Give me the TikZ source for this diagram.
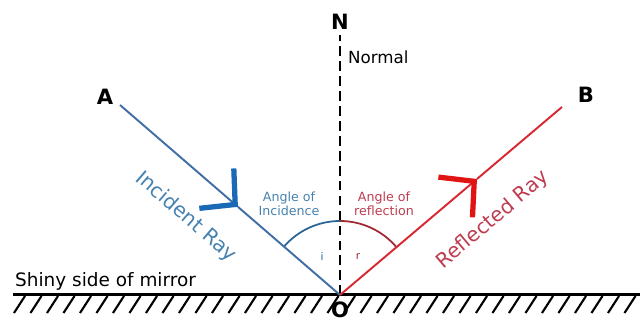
\documentclass[tikz,border=0pt]{standalone}
\usepackage{fontspec}
\setmainfont{DejaVu Sans}
\usepackage{tikz}
\usetikzlibrary{arrows.meta,calc}

\definecolor{raybl}{RGB}{65,110,165}
\definecolor{arrbl}{RGB}{25,105,180}
\definecolor{txtbl}{RGB}{70,130,175}
\definecolor{arcbl}{RGB}{40,100,150}
\definecolor{rayrd}{RGB}{215,40,50}
\definecolor{arrrd}{RGB}{225,20,20}
\definecolor{txtrd}{RGB}{190,60,80}
\definecolor{arcrd}{RGB}{160,40,50}

\begin{document}
\begin{tikzpicture}[x=0.02cm, y=0.02cm,
  lbl/.style={font=\fontsize{12}{14}\selectfont\bfseries},
  mirror/.style={line width=1.7pt},
  hatch/.style={line width=1.2pt},
  normalline/.style={line width=1.6pt, dash pattern=on 5.5pt off 3pt},
  incray/.style={raybl, line width=1.1pt},
  refray/.style={rayrd, line width=1.1pt},
  raytext/.style={font=\fontsize{11.5}{13}\selectfont},
  angtext/.style={font=\fontsize{7.2}{8.2}\selectfont, align=center, inner sep=1pt},
  ]
  \useasboundingbox (0,0) rectangle (640,320);

  % points of the figure
  \coordinate (o) at (340,25);
  \coordinate (a) at (120,215);
  \coordinate (b) at (562,213);
  \coordinate (n) at (340,285);
  \coordinate (ml) at (13,25);
  \coordinate (mr) at (640,25);

  % mirror with its hatching
  \foreach \x in {14,30.5,...,640} {\draw[hatch] (\x,7) -- ++(11,17);}
  \draw[mirror] (ml) -- (mr);
  \node[font=\fontsize{10.5}{12}\selectfont, anchor=west] (shiny) at (9,39) {Shiny side of mirror};

  % normal
  \draw[normalline] (o) -- (n);
  \node[lbl] (nlbl) at (340,298) {N};
  \node[font=\fontsize{9.5}{11}\selectfont, anchor=west] (normtxt) at (342,263) {Normal};

  % angles
  \draw[arcbl, line width=1pt] (o) ++(90:74) arc[start angle=90, end angle=139.5, radius=74];
  \draw[arcrd, line width=1pt] (o) ++(90:74) arc[start angle=90, end angle=40.5, radius=74];
  \node[angtext, text=txtbl] (inctxt) at (289,116) {Angle of\\Incidence};
  \node[angtext, text=txtrd] (reftxt) at (384,116) {Angle of\\reflection};
  \node[font=\fontsize{6}{7}\selectfont, text=arcbl] (ilbl) at (322,63) {i};
  \node[font=\fontsize{6}{7}\selectfont, text=arcrd] (rlbl) at (358,63) {r};

  % incident and reflected rays
  \coordinate (ai) at ($(a)!0.536!(o)$);
  \coordinate (bi) at ($(o)!0.617!(b)$);
  \draw[incray, -{Straight Barb[length=14pt,width=30pt,line width=3pt,color=arrbl]}] (a) -- (ai);
  \draw[incray] (ai) -- (o);
  \draw[refray, -{Straight Barb[length=14pt,width=30pt,line width=3pt,color=arrrd]}] (o) -- (bi);
  \draw[refray] (bi) -- (b);

  \node[lbl] (albl) at (105,223) {A};
  \node[lbl] (blbl) at (586,225) {B};
  \node[lbl] (olbl) at (340,10) {O};

  \node[raytext, text=txtbl, rotate=-40.8] (inctext) at (186,103) {Incident Ray};
  \node[raytext, text=txtrd, rotate=40.3] (reftext) at (493,100) {Reflected Ray};
\end{tikzpicture}
\end{document}
